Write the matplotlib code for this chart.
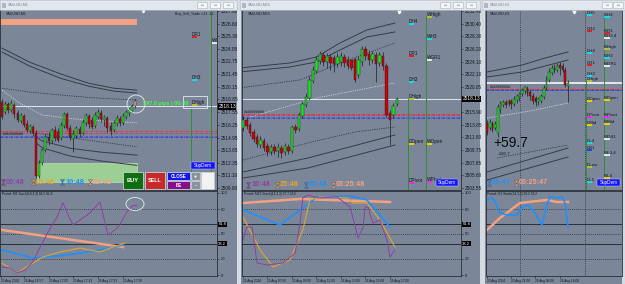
import matplotlib
matplotlib.use("Agg")
import matplotlib.pyplot as plt
from matplotlib.patches import Rectangle, Ellipse
from matplotlib.lines import Line2D
from matplotlib.path import Path
from matplotlib.transforms import Affine2D, blended_transform_factory

plt.rcParams['font.family'] = ['Liberation Sans', 'DejaVu Sans']

# ---------------- XAUUSD M1 ----------------
m1_open = [2518.6, 2517.55, 2518.4, 2517.75, 2518.3, 2517.45, 2516.65, 2517.15, 2516.35, 2515.6, 2516.05,
           2515.4, 2511.0, 2512.35, 2513.65, 2515.0, 2514.6, 2515.7, 2515.5, 2514.9, 2516.15, 2517.35,
           2515.9, 2514.8, 2515.1, 2515.8, 2515.4, 2516.45, 2517.15, 2516.75, 2516.15, 2517.05, 2517.45,
           2516.75, 2516.95, 2516.15, 2515.7, 2516.3, 2516.85, 2516.4, 2517.05, 2517.45, 2517.65, 2518.65]
m1_close = [2517.05, 2518.4, 2517.75, 2518.5, 2517.35, 2516.75, 2517.25, 2516.25, 2515.7, 2516.15, 2515.4,
            2511.0, 2512.35, 2513.65, 2515.0, 2514.6, 2515.7, 2514.9, 2514.7, 2516.25, 2517.35, 2515.9,
            2515.0, 2515.3, 2515.9, 2515.3, 2516.5, 2517.25, 2516.3, 2516.0, 2517.25, 2517.55, 2516.85,
            2517.05, 2515.9, 2515.6, 2516.4, 2516.95, 2516.4, 2517.15, 2517.55, 2517.75, 2518.15, 2518.13]
m1_high = [2518.9, 2518.7, 2518.6, 2518.8, 2518.5, 2517.75, 2517.45, 2517.35, 2516.75, 2516.35, 2516.25,
           2515.7, 2512.65, 2513.9, 2515.3, 2515.5, 2515.9, 2516.15, 2515.9, 2516.55, 2517.55, 2517.55,
           2516.25, 2515.7, 2516.15, 2516.15, 2516.8, 2517.45, 2517.35, 2517.05, 2517.55, 2517.85, 2517.75,
           2517.25, 2517.15, 2516.5, 2516.75, 2517.25, 2517.15, 2517.45, 2517.75, 2517.95, 2518.4, 2518.9]
m1_low = [2516.85, 2517.35, 2517.45, 2517.55, 2516.95, 2516.55, 2516.45, 2516.05, 2515.5, 2515.4, 2515.1,
          2510.8, 2510.8, 2512.15, 2513.45, 2514.2, 2514.4, 2514.6, 2514.5, 2514.7, 2515.9, 2515.7,
          2514.7, 2513.45, 2514.9, 2515.0, 2515.2, 2516.15, 2515.9, 2515.8, 2515.9, 2516.85, 2516.5,
          2516.15, 2515.5, 2515.2, 2515.5, 2516.15, 2516.15, 2516.2, 2516.85, 2517.2, 2517.55, 2517.95]
m1_price_ticks = ['2527.90', '2526.60', '2525.30', '2524.05', '2522.75', '2521.45', '2520.15', '2518.85',
                  '2517.55', '2516.25', '2514.95', '2513.65', '2512.35', '2511.10', '2509.80']
m1_env_x = [0, 9, 19, 28, 36, 43.5]
m1_env_up1 = [2524.1, 2522.65, 2521.45, 2520.5, 2520.0, 2519.8]
m1_env_up2 = [2523.7, 2522.25, 2521.0, 2520.2, 2519.7, 2519.5]
m1_env_up3 = [2520.0, 2519.6, 2519.3, 2519.05, 2518.9, 2518.8]
m1_mid_x = [0, 6, 13, 25, 43.5]
m1_mid = [2519.8, 2518.4, 2517.25, 2516.8, 2516.45]
m1_lo_x = [11, 13, 22, 32, 43.5]
m1_env_lo1 = [2515.0, 2514.6, 2513.85, 2513.45, 2513.15]
m1_env_lo2 = [2514.4, 2513.9, 2513.05, 2512.55, 2512.1]
m1_lo3_x = [11, 43.5]
m1_env_lo3 = [2515.4, 2514.0]
m1_zone_demand = [11.3, 43.5, 2510.42, 2512.34]
m1_zone_supply = [-0.65, 43.5, 2526.47, 2527.08]
m1_d_names = ['DR1', 'DH3', 'DHigh']
m1_d_prices = [2525.24, 2520.84, 2518.28]
m1_d_colors = ['#e02020', '#10e0e8', '#b8c030']
m1_w_names = ['WOpen']
m1_w_prices = [2524.62]
m1_w_colors = ['#e8e8e8']
m1_dates = ['26 Aug 2024', '26 Aug 16:57', '26 Aug 17:05', '26 Aug 17:13', '26 Aug 17:21', '26 Aug 17:29']
m1_date_pos = [-0.3, 7, 15, 23, 31, 39]
m1_k_x = [0, 2.6, 4.8, 7.4, 10, 12.3, 15.5, 17.7, 19.7, 21.3, 22.9, 25.2, 28.4, 31.6, 34.2, 36.5, 38, 40.3,
          42.3, 43.5]
m1_k = [9.8, 8.5, 2.4, 6, 16, 34, 57, 70, 88, 73, 61, 67, 76, 89, 49, 55, 61, 77, 85, 84.5]
m1_gold_x = [0, 4.8, 9, 13.2, 18.7, 25.2, 31.6, 35.8, 39.7]
m1_gold = [14.6, 2.4, 12.2, 22, 28, 32.9, 28, 34.1, 39.0]
m1_blue_x = [0, 10, 21, 31.6, 39]
m1_blue = [30.5, 20.7, 24.4, 30.5, 36.6]
m1_salmon_x = [0, 39]
m1_salmon = [54.9, 34.1]

# ---------------- XAUUSD M15 ----------------
m15_open = [2513.31, 2514.62, 2513.81, 2512.66, 2511.84, 2510.53, 2511.19, 2510.37, 2509.38, 2510.20, 2509.55,
            2510.04, 2509.38, 2510.20, 2509.55, 2513.48, 2513.15, 2515.28, 2517.08, 2518.23, 2521.01, 2522.65,
            2524.29, 2525.27, 2524.12, 2524.94, 2524.78, 2523.80, 2524.12, 2524.94, 2524.45, 2524.45, 2524.62,
            2521.99, 2524.12, 2526.25, 2525.43, 2524.45, 2525.27, 2523.96, 2525.11, 2523.47, 2515.77, 2515.44,
            2517.25]
m15_close = [2514.62, 2513.64, 2512.50, 2511.51, 2510.69, 2511.35, 2510.04, 2509.38, 2510.20, 2509.55, 2510.20,
             2509.22, 2510.37, 2509.55, 2513.48, 2512.99, 2515.44, 2517.25, 2518.39, 2521.18, 2522.81, 2524.45,
             2525.43, 2524.12, 2525.11, 2523.96, 2523.80, 2524.94, 2525.11, 2523.96, 2523.47, 2523.14, 2521.18,
             2524.45, 2526.25, 2525.11, 2524.45, 2525.43, 2523.80, 2525.27, 2523.47, 2515.44, 2514.62, 2516.92,
             2518.13]
m15_high = [2515.28, 2515.12, 2514.30, 2513.15, 2512.33, 2512.00, 2511.68, 2510.86, 2510.69, 2510.69, 2510.86,
            2510.53, 2510.86, 2510.69, 2513.81, 2513.97, 2515.93, 2517.74, 2519.05, 2521.83, 2523.47, 2525.11,
            2525.93, 2525.76, 2525.60, 2525.43, 2525.27, 2525.60, 2525.76, 2525.43, 2525.11, 2524.62, 2524.78,
            2525.11, 2526.75, 2526.75, 2526.09, 2525.93, 2525.76, 2525.76, 2525.76, 2523.96, 2516.26, 2517.41,
            2518.39]
m15_low = [2512.82, 2513.15, 2512.00, 2511.02, 2510.20, 2510.04, 2509.55, 2508.73, 2508.89, 2509.06, 2508.57,
           2508.40, 2508.89, 2509.06, 2509.22, 2512.50, 2512.82, 2514.95, 2516.75, 2517.90, 2520.69, 2522.32,
           2523.80, 2523.47, 2523.14, 2522.81, 2522.49, 2523.31, 2523.47, 2523.31, 2522.98, 2522.81, 2520.85,
           2521.50, 2523.47, 2524.45, 2523.63, 2523.96, 2520.85, 2523.47, 2522.81, 2515.12, 2510.53, 2514.95,
           2516.92]
m15_price_ticks = ['2532.48', '2530.40', '2528.30', '2526.20', '2524.10', '2522.10', '2520.05',
                   '2515.90', '2513.85', '2511.80', '2509.75', '2507.65', '2505.60', '2503.55']
m15_env_x = [-1, 13.4, 21, 27.7, 35.4, 43.4]
m15_env_up1 = [2523.14, 2523.96, 2524.94, 2527.24, 2529.37, 2530.51]
m15_env_up2 = [2522.49, 2523.31, 2524.12, 2526.09, 2528.22, 2529.04]
m15_up3_x = [-1, 16.3, 27.7, 43.4]
m15_env_up3 = [2519.87, 2521.18, 2523.96, 2527.24]
m15_mid_x = [-1, 21.1, 43.4]
m15_mid = [2514.62, 2518.23, 2520.69]
m15_lo3_x = [0, 18.5, 32, 43.4]
m15_env_lo3 = [2508.07, 2510.86, 2512.66, 2513.48]
m15_lo_x = [0, 18.5, 43.4]
m15_env_lo1 = [2506.11, 2508.40, 2512.17]
m15_env_lo2 = [2505.12, 2506.76, 2510.53]
m15_d_names = ['DH4', 'DR1', 'DH3', 'DHigh', 'DOpen', 'DPivot']
m15_d_prices = [2530.35, 2525.11, 2520.85, 2518.06, 2510.69, 2504.30]
m15_d_colors = ['#10e0e8', '#e02020', '#10e0e8', '#b8c030', '#f0d000', '#ff20ff']
m15_w_names = ['WHigh', 'WH3', 'WGR1', 'WOpen', 'WPivot']
m15_w_prices = [2531.5, 2527.9, 2524.45, 2510.69, 2504.47]
m15_w_colors = ['#b8c030', '#10e0e8', '#e8e8e8', '#f0d000', '#ff20ff']
m15_dates = ['26 Aug 2024', '26 Aug 07:00', '26 Aug 09:00', '26 Aug 11:00', '26 Aug 13:00', '26 Aug 15:00',
             '26 Aug 17:00']
m15_date_pos = [0, 7, 14, 21, 28, 35, 42]
m15_k_x = [0, 1.1, 2.6, 4, 6.9, 11.4, 14.9, 16.3, 17.1, 18.6, 21.4, 26.9, 30.6, 32.9, 34.3, 34.9, 35.7, 37.1,
           39.1, 41.1, 42, 43.4]
m15_k = [42.7, 58.5, 58.5, 14.6, 12.2, 14.6, 26.8, 63.4, 93.9, 97.6, 93.9, 95.1, 82.9, 45.1, 58.5, 82.9, 82.9,
         63.4, 67.1, 42.7, 22.0, 30.5]
m15_gold_x = [0, 4.9, 8.6, 13.4, 17.1, 19.1, 22, 29.7, 31.4, 35.4, 39.1, 43.4]
m15_gold = [70.7, 30.5, 9.8, 18.3, 54.9, 91.5, 95.1, 93.9, 87.8, 87.8, 67.1, 34.1]
m15_blue_x = [0, 4.9, 10.6, 16.3, 21.1, 30.6, 35.4, 42]
m15_blue = [79.3, 70.7, 61.0, 79.3, 95.1, 96.3, 91.5, 58.5]
m15_salmon_x = [0, 16.3, 42]
m15_salmon = [87.8, 92.7, 89.0]

# ---------------- XAUUSD H1 ----------------
h1_open = [2499.7, 2497.9, 2500.15, 2497.9, 2495.65, 2506.0, 2508.25, 2509.6, 2508.7, 2510.05, 2508.7, 2510.5,
           2511.4, 2513.2, 2514.55, 2515.9, 2514.1, 2512.3, 2511.4, 2509.6, 2510.05, 2511.85, 2515.9, 2519.5,
           2522.65, 2524.9, 2524.0, 2526.25, 2525.8, 2524.0, 2516.8]
h1_close = [2496.1, 2500.6, 2497.0, 2499.7, 2507.35, 2509.15, 2509.6, 2508.25, 2510.05, 2508.7, 2510.95, 2512.3,
            2513.65, 2515.0, 2516.35, 2513.65, 2512.3, 2510.05, 2509.6, 2510.95, 2512.3, 2515.9, 2519.5, 2523.1,
            2524.9, 2524.0, 2525.8, 2524.9, 2524.0, 2517.25, 2518.13]
h1_high = [2501.5, 2501.95, 2501.05, 2501.05, 2508.7, 2510.05, 2510.5, 2510.5, 2510.95, 2510.95, 2512.3, 2513.2,
           2514.1, 2515.9, 2516.8, 2516.8, 2515.0, 2513.65, 2512.3, 2511.85, 2513.2, 2517.25, 2521.3, 2524.9,
           2526.25, 2526.7, 2527.15, 2527.6, 2527.15, 2525.35, 2519.5]
h1_low = [2494.75, 2497.0, 2496.1, 2497.0, 2493.85, 2504.65, 2507.35, 2506.9, 2507.8, 2506.45, 2507.8, 2509.15,
          2510.05, 2512.3, 2513.2, 2512.3, 2510.5, 2508.7, 2507.8, 2508.25, 2509.15, 2510.95, 2515.0, 2518.6,
          2521.75, 2522.65, 2523.1, 2521.75, 2523.1, 2516.35, 2509.6]
h1_env_x = [0, 13, 21.5, 30]
h1_env_up1 = [2523.1, 2526.25, 2529.4, 2532.1]
h1_env_up2 = [2520.85, 2523.1, 2525.8, 2528.5]
h1_mid_x = [0, 16, 30]
h1_mid = [2502.4, 2505.55, 2509.15]
h1_lo3_x = [3.7, 30]
h1_env_lo3 = [2484.4, 2490.25]
h1_lo_x = [0, 30]
h1_env_lo1 = [2478.1, 2488.9]
h1_env_lo2 = [2474.5, 2484.85]
h1_day_sep = [12.2, 36.3]
h1_d_names = ['DH5', 'DR2', 'DH4', 'DR1', 'DH3', 'DHigh', 'DOpen', 'DPivot', 'DMid', 'DL4', 'DS1', 'DLow', 'DL5']
h1_d_prices = [2548.75, 2541.55, 2531.65, 2526.25, 2521.3, 2519.05, 2510.05, 2502.85, 2499.25, 2491.15, 2488.0,
               2480.35, 2473.6]
h1_d_colors = ['#10e0e8', '#e02020', '#10e0e8', '#e02020', '#10e0e8', '#b8c030', '#f0d000', '#ff20ff',
               '#f0d000', '#10e0e8', '#2040ff', '#b8c030', '#10e0e8']
h1_w_names = ['WH4', 'WR1', 'WH3.4', 'WHigh', 'WH3', 'WGR1', 'WOpen', 'WPivot', 'WMid', 'WGS1', 'WL3.4', 'WL4']
h1_w_prices = [2547.85, 2540.65, 2538.4, 2533.45, 2529.4, 2525.8, 2510.5, 2502.85, 2499.7, 2492.95, 2485.75,
               2475.4]
h1_w_colors = ['#10e0e8', '#e02020', '#e8e8e8', '#b8c030', '#10e0e8', '#e8e8e8', '#f0d000', '#ff20ff',
               '#f0d000', '#e8e8e8', '#e8e8e8', '#f0d000']
h1_dates = ['23 Aug 2024', '23 Aug 21:00', '26 Aug 06:00', '26 Aug 14:00']
h1_date_pos = [0, 8.9, 17.8, 27]
h1_blue_x = [0, 1.9, 3, 4.8, 7.4, 11.1, 13, 15.2, 17.8, 20.4, 22.2, 23.3, 25.9, 27.8, 28.9, 30]
h1_blue = [91.5, 93.9, 89.0, 75.6, 73.2, 73.2, 82.9, 85.4, 75.6, 61.0, 85.4, 95.1, 93.9, 95.1, 87.8, 58.5]
h1_salmon_x = [0, 4.8, 12.2, 22.2, 25.9, 30]
h1_salmon = [54.9, 69.5, 87.8, 91.5, 89.0, 89.0]

# shared levels
bid = 2518.13
order_lines = [2515.62, 2515.41, 2515.15, 2515.0]
order_colors = ['#e83030', '#d83050', '#4a50e8', '#3040d0']
stoch_ticks = [100, 80, 50, 20, 0]

BG = '#7b8798'
FRAME = '#d5dbe3'
DARK = '#2a2f37'
TXT = '#12161c'
UP, DOWN = '#18e818', '#d00000'
GLINE = '#2f8f2f'
PURPLE, GOLD, BLUE, SALMON = '#8e3fa6', '#e3a52c', '#1e8fff', '#f4a080'

W, H = 625, 284
fig = plt.figure(figsize=(6.25, 2.84), dpi=100, facecolor=FRAME)
T = Affine2D().scale(1.0 / W, -1.0 / H).translate(0, 1) + fig.transFigure
hourglass = Path([(-0.7, 1), (0.7, 1), (0, 0), (0.7, -1), (-0.7, -1), (0, 0), (-0.7, 1)])


def px_axes(x0, y0, x1, y1):
    ax = fig.add_axes([x0 / W, 1 - y1 / H, (x1 - x0) / W, (y1 - y0) / H])
    ax.set_facecolor(BG)
    for s in ax.spines.values():
        s.set_color(DARK)
        s.set_linewidth(0.6)
    return ax


def box(x0, y0, x1, y1, fc, ec='none', lw=0.5, z=5):
    fig.add_artist(Rectangle((x0, y0), x1 - x0, y1 - y0, transform=T,
                             facecolor=fc, edgecolor=ec, lw=lw, zorder=z))


def txt(x, y, s, z=6, **kw):
    kw.setdefault('va', 'center')
    fig.text(x, y, s, transform=T, zorder=z, **kw)


def button(x0, y0, x1, y1, fc, s, size):
    box(x0, y0, x1, y1, fc, ec='#c9d0d8', lw=0.6)
    txt((x0 + x1) / 2, (y0 + y1) / 2 + 0.3, s, ha='center', color='white', fontsize=size, weight='bold')


def timer(x, y, s, color):
    fig.add_artist(Line2D([x + 2], [y], transform=T, marker=hourglass, markersize=4.2, color=color,
                          markeredgewidth=0.3, markeredgecolor='#555', ls='none', zorder=6))
    txt(x + 5, y, s, color=color, fontsize=5.2, weight='bold', ha='left')


def candles(ax, o, h, l, c, w, last=None):
    for i in range(len(o)):
        col = UP if c[i] >= o[i] else DOWN
        if last and i == len(o) - 1:
            col = last
        ax.vlines(i, l[i], h[i], color='#1c1f24', lw=0.5, zorder=3)
        ax.add_patch(Rectangle((i - w / 2, min(o[i], c[i])), w, abs(c[i] - o[i]),
                               facecolor=col, edgecolor='#1c1f24', lw=0.3, zorder=4))


def bands(ax, solid, dotted, mid):
    for x, y in solid:
        ax.plot(x, y, color='#363c46', lw=0.7, zorder=2)
    for x, y in dotted:
        ax.plot(x, y, color='#363c46', lw=0.6, ls=(0, (1.5, 1.2)), zorder=2)
    ax.plot(mid[0], mid[1], color='#c9d0d8', lw=0.6, ls=(0, (1.5, 1.2)), zorder=2)


def common_lines(ax, bid_lw=0.7):
    ax.axhline(bid, color='#e4e8ec', lw=bid_lw, zorder=2)
    for p, c in zip(order_lines, order_colors):
        ax.axhline(p, color=c, lw=0.6, ls=(0, (3, 1, 1, 1)), zorder=2)


def levels(ax, x, names, prices, colors, w, size=3.4):
    for n, p, c in zip(names, prices, colors):
        ax.hlines(p, x + 0.2, x + 0.2 + w, color=c, lw=1.4, zorder=6)
        ax.text(x + 0.2, p, n, fontsize=size, color=TXT, va='bottom', ha='left', zorder=6, clip_on=True)


def price_axis(ax, ticks):
    ax.yaxis.tick_right()
    ax.set_yticks([float(t) for t in ticks])
    ax.set_yticklabels(ticks)
    ax.tick_params(axis='y', length=1.5, width=0.4, pad=1, labelsize=3.4, colors=TXT)
    tr = blended_transform_factory(ax.transAxes, ax.transData)
    ax.text(1.006, bid, '%.2f' % bid, transform=tr, fontsize=3.4, color='white', va='center', ha='left',
            bbox=dict(boxstyle='square,pad=0.12', fc='black', ec='none'), clip_on=False, zorder=10)


def stoch_axis(ax, title, dates, date_pos, labels=True):
    ax.set_ylim(-1.2, 102.4)
    for lv in [80, 50, 20]:
        ax.axhline(lv, color=DARK, lw=0.5, ls=(0, (1.5, 1.5)))
    for lv in [61.8, 38.2]:
        ax.axhline(lv, color=DARK, lw=0.7)
    ax.text(0.01, 0.985, title, transform=ax.transAxes, fontsize=2.3, color=TXT, va='top')
    ax.set_xticks(date_pos)
    ax.set_xticklabels(dates, ha='left')
    ax.tick_params(axis='x', length=1.5, width=0.4, pad=0.8, labelsize=2.3, colors=TXT)
    if labels:
        ax.yaxis.tick_right()
        ax.set_yticks(stoch_ticks)
        ax.set_yticklabels([str(t) for t in stoch_ticks])
        ax.tick_params(axis='y', length=1.5, width=0.4, pad=1, labelsize=3, colors=TXT)
        tr = blended_transform_factory(ax.transAxes, ax.transData)
        for lv in [61.8, 38.2]:
            ax.text(1.006, lv, str(lv), transform=tr, fontsize=3, color='white', va='center', ha='left',
                    bbox=dict(boxstyle='square,pad=0.12', fc='black', ec='none'), clip_on=False)
    else:
        ax.set_yticks([])


# window frames and title bars
box(0, 10, 237, 284, BG, z=-1)
box(241, 10, 480, 284, BG, z=-1)
box(485, 10, 622, 284, BG, z=-1)
for x0, x1, name, btns in [(0, 237, 'XAUUSD,M1', [197, 210, 223]),
                           (240, 480, 'XAUUSD,M15', [440, 453, 466]),
                           (482, 625, 'XAUUSD,H1', [602, 613])]:
    box(x0, 0, x1, 10, '#e2e7ed', ec='#b8c0ca', lw=0.4)
    box(x0 + 2, 2.5, x0 + 6, 7.5, '#aeb8c4')
    txt(x0 + 8, 5, name, color='#7a828c', fontsize=2.6, ha='left')
    for b in btns:
        box(b, 2, b + 10, 8, '#f4f6f9', ec='#a9b1bb', lw=0.4)
        txt(b + 5, 5, '▭', color='#707880', fontsize=2.4, ha='center')

# ---------------- chart 1 (M1) ----------------
a1 = px_axes(0, 10, 217, 190)
a1.set_xlim(-0.645, 69.35)
a1.set_ylim(2509.58, 2528.0)
a1.set_xticks([])
price_axis(a1, m1_price_ticks)
a1.add_patch(Rectangle((m1_zone_supply[0], m1_zone_supply[2]), m1_zone_supply[1] - m1_zone_supply[0],
                       m1_zone_supply[3] - m1_zone_supply[2], facecolor='#f2a282', edgecolor='none', zorder=1))
a1.add_patch(Rectangle((m1_zone_demand[0], m1_zone_demand[2]), m1_zone_demand[1] - m1_zone_demand[0],
                       m1_zone_demand[3] - m1_zone_demand[2], facecolor='#9ccf95', edgecolor='#b9e0b2',
                       lw=0.5, zorder=1))
bands(a1, [(m1_env_x, m1_env_up1), (m1_env_x, m1_env_up2), (m1_lo_x, m1_env_lo1), (m1_lo_x, m1_env_lo2)],
      [(m1_env_x, m1_env_up3), (m1_lo3_x, m1_env_lo3)], (m1_mid_x, m1_mid))
common_lines(a1)
candles(a1, m1_open, m1_high, m1_low, m1_close, 0.62, last='#f4a6a0')
a1.vlines(61.0, 2509.58, 2518.07, color=GLINE, lw=0.7, zorder=2)
a1.vlines(67.4, 2509.58, 2528.0, color=GLINE, lw=0.7, zorder=2)
levels(a1, 61.0, m1_d_names, m1_d_prices, m1_d_colors, 1.8)
levels(a1, 67.4, m1_w_names, m1_w_prices, m1_w_colors, 1.8)
a1.text(0.025, 0.99, 'XAUUSD,M1', transform=a1.transAxes, fontsize=2.6, color=TXT, va='top')
a1.text(0.99, 0.99, 'Buy_Sell_Trade v.11 -12-', transform=a1.transAxes, fontsize=2.5, color=TXT,
        va='top', ha='right')
a1.text(0.3, 2515.3, '##########', fontsize=2.8, color='#111111', va='center', zorder=5)
a1.plot([45.5], [2527.85], marker='v', color='white', markersize=2, zorder=6)

s1 = px_axes(0, 191, 217, 276)
s1.set_xlim(-0.645, 69.35)
stoch_axis(s1, 'Period: M1 Stoch(14,3,3) 84.5 81.8', m1_dates, m1_date_pos)
s1.plot(m1_salmon_x, m1_salmon, color=SALMON, lw=1.8)
s1.plot(m1_blue_x, m1_blue, color=BLUE, lw=1.2)
s1.plot(m1_gold_x, m1_gold, color=GOLD, lw=0.8)
s1.plot(m1_k_x, m1_k, color=PURPLE, lw=0.7)

fig.add_artist(Ellipse((136, 104), 18, 18, transform=T, fill=False, ec='#e8ecf0', lw=0.6, zorder=6))
fig.add_artist(Ellipse((135, 204), 18, 13, transform=T, fill=False, ec='#e8ecf0', lw=0.6, zorder=6))
box(183, 96, 207, 108, 'none', ec='#e6eaee', lw=0.6)
txt(143, 103.5, '597.0 pips | 00:48', color='#3cff3c', fontsize=4, weight='bold', ha='left')
box(191, 162, 215, 169, '#1414ff', ec='#d0d8ff', lw=0.3)
txt(203, 165.7, 'SupDem', color='white', fontsize=3.3, ha='center')
button(123, 172, 143, 189, '#0e6e10', 'BUY', 4.1)
button(145, 172, 165, 189, '#c62a2a', 'SELL', 3.9)
button(167, 172, 190, 180, '#1414f0', 'CLOSE', 3.3)
button(167, 181, 190, 189, '#86108a', 'BE', 3.3)
button(191, 172, 200, 180, '#8a929c', '+', 4)
button(191, 181, 200, 189, '#8a929c', '-', 4)
box(201, 172, 214, 189, '#f2f2f2', ec='#c9d0d8', lw=0.6)
timer(1, 182, '00:48', PURPLE)
timer(31, 182, '00:48', GOLD)
timer(60, 182, '10:48', BLUE)
timer(88, 182, '25:48', SALMON)

# ---------------- chart 2 (M15) ----------------
a2 = px_axes(242, 10, 461, 190)
a2.set_xlim(-0.286, 62.29)
a2.set_ylim(2503.16, 2532.64)
a2.set_xticks([])
price_axis(a2, m15_price_ticks)
bands(a2, [(m15_env_x, m15_env_up1), (m15_env_x, m15_env_up2), (m15_lo_x, m15_env_lo1),
           (m15_lo_x, m15_env_lo2)],
      [(m15_up3_x, m15_env_up3), (m15_lo3_x, m15_env_lo3)], (m15_mid_x, m15_mid))
common_lines(a2)
candles(a2, m15_open, m15_high, m15_low, m15_close, 0.62)
a2.vlines(47.1, 2503.16, 2518.2, color=GLINE, lw=0.7, zorder=2)
a2.vlines(52.3, 2503.16, 2531.9, color=GLINE, lw=0.7, zorder=2)
levels(a2, 47.1, m15_d_names, m15_d_prices, m15_d_colors, 1.6)
levels(a2, 52.3, m15_w_names, m15_w_prices, m15_w_colors, 1.6)
a2.text(0.025, 0.99, 'XAUUSD,M15', transform=a2.transAxes, fontsize=2.6, color=TXT, va='top')
a2.text(0.3, 2515.9, '##########', fontsize=2.8, color='#111111', va='center', zorder=5)
a2.plot([44.6], [2532.3], marker='v', color='white', markersize=2, zorder=6)

s2 = px_axes(242, 191, 461, 276)
s2.set_xlim(-0.286, 62.29)
stoch_axis(s2, 'Period: M15 Stoch(14,3,3) 37.7 28.6', m15_dates, m15_date_pos)
s2.plot(m15_salmon_x, m15_salmon, color=SALMON, lw=1.8)
s2.plot(m15_blue_x, m15_blue, color=BLUE, lw=1.2)
s2.plot(m15_gold_x, m15_gold, color=GOLD, lw=0.8)
s2.plot(m15_k_x, m15_k, color=PURPLE, lw=0.7)

box(436, 179, 458, 186, '#1414ff', ec='#d0d8ff', lw=0.3)
txt(447, 182.7, 'SupDem', color='white', fontsize=3.3, ha='center')
timer(246, 185, '10:48', PURPLE)
timer(275, 185, '25:48', GOLD)
timer(304, 185, '25:48', BLUE)
timer(331, 185, '03:25:48', SALMON)

# ---------------- chart 3 (H1) ----------------
a3 = px_axes(486, 10, 622, 190)
a3.set_xlim(-0.37, 50.0)
a3.set_ylim(2470.0, 2551.0)
a3.set_xticks([])
a3.set_yticks([])
for xs in h1_day_sep:
    a3.axvline(xs, color=DARK, lw=0.5, ls=(0, (1.5, 1.5)), zorder=1)
bands(a3, [(h1_env_x, h1_env_up1), (h1_env_x, h1_env_up2), (h1_lo_x, h1_env_lo1), (h1_lo_x, h1_env_lo2)],
      [(h1_lo3_x, h1_env_lo3)], (h1_mid_x, h1_mid))
common_lines(a3, bid_lw=1.4)
candles(a3, h1_open, h1_high, h1_low, h1_close, 0.62)
a3.vlines(36.7, 2470.0, 2519.5, color=GLINE, lw=0.7, zorder=2)
a3.vlines(43.3, 2470.0, 2548.8, color=GLINE, lw=0.7, zorder=2)
levels(a3, 36.7, h1_d_names, h1_d_prices, h1_d_colors, 1.9, size=3.2)
levels(a3, 43.3, h1_w_names, h1_w_prices, h1_w_colors, 1.9, size=3.2)
a3.text(0.03, 0.99, 'XAUUSD,H1', transform=a3.transAxes, fontsize=2.6, color=TXT, va='top')
a3.text(1.0, 2516.2, '##########', fontsize=2.8, color='#111111', va='center', zorder=5)
a3.plot([32.2], [2550.3], marker='v', color='white', markersize=2, zorder=6)

s3 = px_axes(486, 191, 622, 276)
s3.set_xlim(-0.37, 50.0)
stoch_axis(s3, 'Period: H1 Stoch(14,3,3) 58.2 74.2', h1_dates, h1_date_pos, labels=False)
for xs in h1_day_sep:
    s3.axvline(xs, color=DARK, lw=0.5, ls=(0, (1.5, 1.5)))
s3.plot(h1_salmon_x, h1_salmon, color=SALMON, lw=1.8)
s3.plot(h1_blue_x, h1_blue, color=BLUE, lw=1.2)

txt(493, 143, '+59.7', color='#0a0a0a', fontsize=10, ha='left')
txt(498, 154, '+321.7', color='#0a0a0a', fontsize=3, ha='left')
box(597, 179, 620, 186, '#1414ff', ec='#d0d8ff', lw=0.3)
txt(608.5, 182.7, 'SupDem', color='white', fontsize=3.3, ha='center')
timer(487, 183, '25:47', BLUE)
timer(514, 183, '03:25:47', SALMON)

fig.savefig('out.png', dpi=100, facecolor=FRAME)
